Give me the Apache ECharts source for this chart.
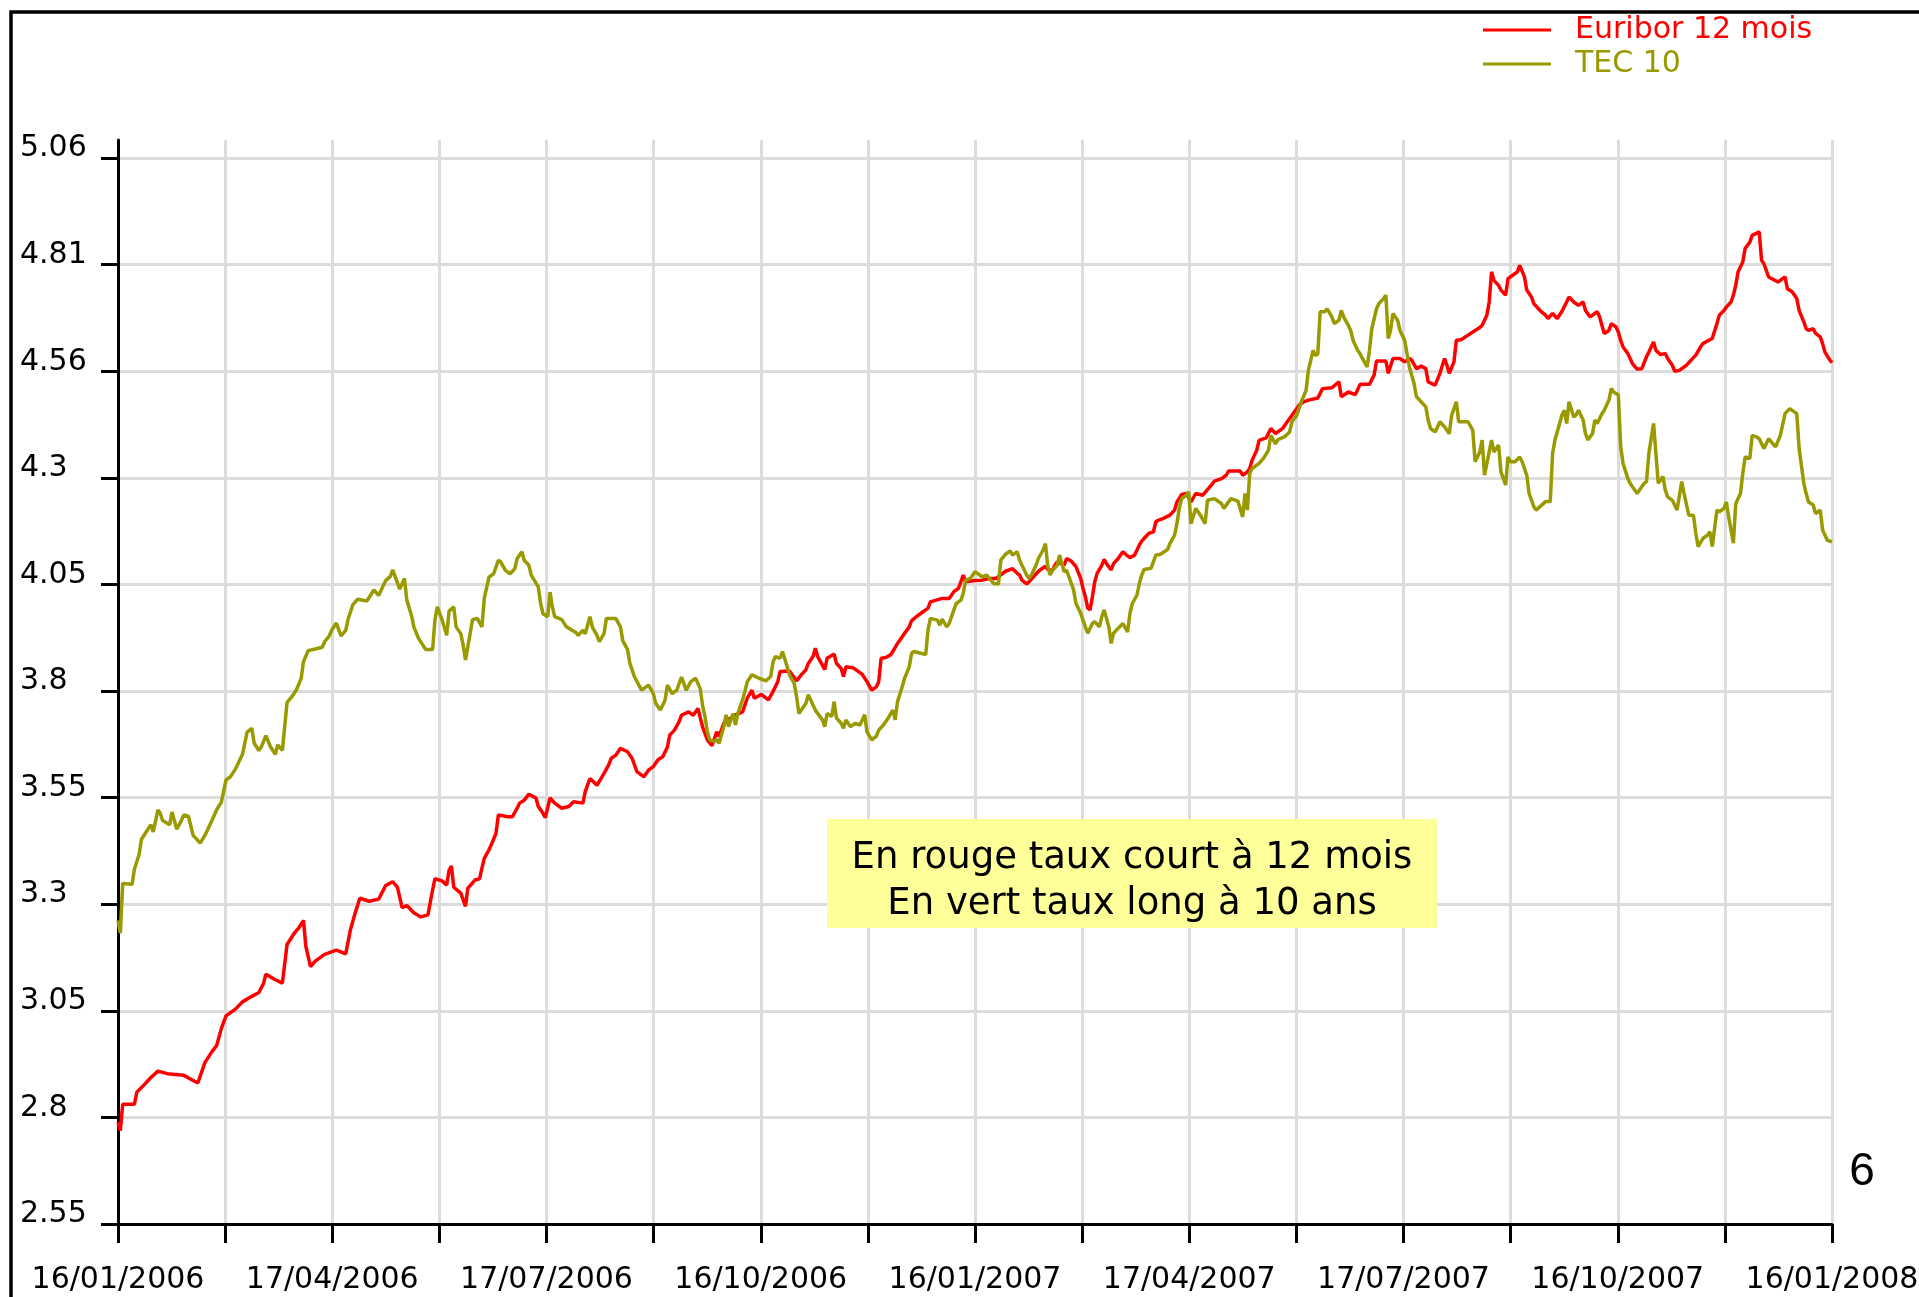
<!DOCTYPE html>
<html>
<head>
<meta charset="utf-8">
<title>Euribor 12 mois / TEC 10</title>
<script src="https://cdn.jsdelivr.net/npm/echarts@6/dist/echarts.min.js"></script>
<style>
  html, body { margin: 0; padding: 0; background: #fff; }
  #chart { width: 1919px; height: 1297px; }
</style>
</head>
<body>
<div id="chart"></div>
<script>
// x = jours depuis le 16/01/2006
const euriborDays = [0,1,2,7,8,11,14,17,21,28,34,37,40,42,44,46,50,53,57,60,62,63,67,70,72,75,77,79,80,82,84,88,93,97,99,101,103,107,111,114,117,119,121,123,126,129,132,134,135,138,140,141,142,143,146,148,149,151,152,154,155,156,158,159,161,162,166,168,170,171,173,175,178,179,181,182,184,186,189,192,194,198,199,201,204,207,209,210,212,214,217,219,221,223,224,226,228,230,232,234,235,237,239,240,243,245,247,249,251,253,255,256,258,260,262,263,266,267,268,270,271,274,277,279,281,282,286,289,291,293,294,296,297,298,300,301,302,305,306,308,309,310,313,317,319,321,323,324,325,327,329,330,332,334,337,338,341,345,346,351,354,356,358,360,361,365,368,371,374,378,381,383,384,385,387,388,392,395,396,398,399,400,403,404,406,408,410,411,412,413,414,415,416,417,419,420,421,423,424,426,427,428,430,431,433,435,436,437,439,441,442,443,445,448,450,451,452,453,455,457,459,462,464,466,467,470,472,473,478,479,481,482,483,485,486,489,491,493,494,496,498,500,501,503,505,507,511,513,517,520,521,524,527,529,533,535,536,540,541,543,546,548,550,551,553,555,557,558,561,563,565,566,567,569,570,572,575,578,580,581,583,584,585,586,588,589,591,592,594,596,597,599,600,602,603,605,606,608,609,611,613,615,617,618,620,622,624,625,627,628,630,631,632,633,635,636,638,639,640,641,643,644,645,647,649,651,652,654,655,657,659,660,662,663,665,668,670,672,674,675,677,679,681,682,684,685,687,688,689,690,692,693,695,696,699,700,701,703,707,710,711,713,715,716,718,719,720,722,723,725,726,727,729,730];
const euriborValues = [2.79,2.77,2.832,2.832,2.86,2.877,2.895,2.91,2.904,2.9,2.882,2.93,2.956,2.97,3.01,3.04,3.056,3.073,3.086,3.095,3.117,3.138,3.125,3.117,3.208,3.234,3.247,3.265,3.204,3.156,3.169,3.185,3.195,3.186,3.243,3.282,3.317,3.31,3.315,3.347,3.356,3.343,3.295,3.3,3.283,3.273,3.278,3.337,3.363,3.358,3.348,3.383,3.393,3.343,3.329,3.298,3.341,3.353,3.36,3.363,3.388,3.411,3.431,3.443,3.47,3.513,3.509,3.509,3.529,3.541,3.548,3.562,3.553,3.533,3.517,3.507,3.553,3.541,3.529,3.533,3.544,3.541,3.568,3.599,3.583,3.611,3.631,3.646,3.654,3.67,3.662,3.646,3.615,3.607,3.603,3.619,3.627,3.643,3.65,3.673,3.701,3.713,3.733,3.748,3.756,3.748,3.764,3.72,3.69,3.676,3.709,3.698,3.729,3.738,3.745,3.749,3.756,3.772,3.788,3.807,3.788,3.797,3.784,3.804,3.827,3.851,3.852,3.829,3.843,3.855,3.87,3.886,3.906,3.886,3.866,3.855,3.882,3.892,3.87,3.858,3.839,3.862,3.86,3.844,3.827,3.807,3.815,3.827,3.882,3.884,3.89,3.898,3.917,3.933,3.956,3.971,3.984,4.0,4.015,4.023,4.023,4.039,4.047,4.078,4.062,4.065,4.066,4.07,4.07,4.087,4.093,4.082,4.078,4.066,4.057,4.062,4.087,4.099,4.091,4.089,4.101,4.109,4.101,4.117,4.111,4.098,4.07,4.047,4.027,4.0,3.996,4.027,4.062,4.082,4.101,4.115,4.105,4.09,4.105,4.117,4.125,4.133,4.123,4.119,4.125,4.149,4.158,4.164,4.176,4.18,4.203,4.207,4.211,4.219,4.231,4.25,4.258,4.268,4.27,4.25,4.27,4.266,4.279,4.292,4.299,4.305,4.313,4.323,4.323,4.313,4.321,4.329,4.348,4.372,4.395,4.401,4.423,4.411,4.415,4.423,4.439,4.454,4.462,4.478,4.486,4.49,4.495,4.517,4.519,4.533,4.498,4.509,4.503,4.527,4.527,4.549,4.582,4.582,4.553,4.588,4.588,4.58,4.588,4.584,4.564,4.57,4.564,4.533,4.525,4.553,4.588,4.572,4.553,4.58,4.631,4.632,4.643,4.654,4.661,4.666,4.69,4.721,4.792,4.772,4.76,4.749,4.737,4.776,4.784,4.792,4.807,4.78,4.749,4.733,4.717,4.705,4.699,4.69,4.682,4.694,4.682,4.699,4.721,4.733,4.721,4.713,4.721,4.701,4.686,4.69,4.698,4.686,4.666,4.647,4.654,4.67,4.662,4.65,4.631,4.615,4.6,4.588,4.576,4.563,4.564,4.592,4.603,4.627,4.607,4.597,4.6,4.588,4.572,4.558,4.56,4.572,4.584,4.596,4.615,4.623,4.629,4.635,4.67,4.69,4.701,4.709,4.721,4.737,4.76,4.792,4.815,4.847,4.862,4.878,4.886,4.819,4.811,4.78,4.768,4.78,4.752,4.745,4.729,4.701,4.674,4.658,4.654,4.658,4.647,4.639,4.623,4.603,4.585,4.578];

const tecDays = [0,1,2,6,7,9,10,12,14,15,17,18,19,22,23,25,27,28,30,32,35,37,40,42,44,46,48,50,53,54,55,57,58,60,61,63,65,67,68,70,72,74,76,78,79,81,84,87,88,90,91,93,95,97,98,100,102,106,109,111,114,116,117,120,122,123,125,126,128,131,134,135,136,138,140,141,143,144,146,147,148,149,151,153,155,156,158,160,162,163,165,167,169,170,172,173,175,176,179,180,181,183,184,185,186,189,191,192,195,196,198,199,201,202,204,205,207,208,212,214,215,217,218,220,223,226,228,229,231,233,234,236,238,240,242,244,246,248,249,250,251,252,254,255,256,258,259,260,262,263,264,266,267,268,270,273,276,278,279,280,282,283,285,286,288,289,290,293,294,296,297,300,301,302,304,305,306,308,309,310,312,314,316,318,319,321,323,324,326,328,330,331,332,334,335,337,338,339,344,345,346,349,350,351,353,354,356,357,359,360,361,363,365,368,370,373,375,376,378,380,381,383,384,385,387,388,389,391,392,394,395,396,397,398,400,401,403,404,405,407,408,410,411,412,413,415,416,418,419,420,422,423,424,426,428,430,431,432,434,435,436,437,440,442,444,447,448,450,451,452,453,455,456,457,459,460,461,463,464,467,470,471,474,477,479,480,481,482,483,486,488,490,491,493,494,497,499,500,502,503,504,506,507,509,510,511,512,514,515,517,518,520,521,522,524,525,526,528,529,530,532,533,534,536,537,539,540,541,542,543,545,546,548,550,552,553,555,557,558,559,561,563,565,567,568,570,571,575,577,578,580,581,582,584,585,586,588,589,591,592,593,595,597,598,600,601,603,604,608,610,611,612,614,615,616,617,618,620,621,622,624,625,626,628,629,630,632,633,635,636,637,639,640,641,643,644,646,647,648,650,651,652,654,655,656,658,659,660,662,663,664,666,667,669,671,672,673,675,677,678,679,681,682,684,685,686,688,689,691,692,693,695,696,698,699,701,703,706,708,710,712,715,716,718,719,720,722,723,725,726,728,730];
const tecValues = [3.265,3.235,3.352,3.35,3.386,3.42,3.456,3.473,3.49,3.473,3.525,3.517,3.5,3.49,3.52,3.48,3.5,3.513,3.51,3.465,3.447,3.465,3.5,3.525,3.543,3.595,3.604,3.621,3.656,3.682,3.708,3.717,3.682,3.665,3.673,3.7,3.673,3.656,3.678,3.665,3.778,3.791,3.808,3.834,3.874,3.9,3.904,3.908,3.921,3.935,3.948,3.965,3.935,3.948,3.974,4.008,4.021,4.017,4.043,4.03,4.065,4.075,4.09,4.045,4.07,4.019,3.983,3.956,3.929,3.903,3.903,3.973,4.003,3.973,3.936,3.993,4.003,3.956,3.94,3.913,3.878,3.909,3.973,3.976,3.956,4.023,4.073,4.081,4.113,4.109,4.089,4.081,4.093,4.117,4.133,4.113,4.101,4.078,4.05,4.011,3.987,3.98,4.038,4.003,3.98,3.973,3.956,3.953,3.943,3.936,3.948,3.94,3.98,3.956,3.936,3.921,3.94,3.976,3.976,3.956,3.923,3.903,3.87,3.838,3.807,3.819,3.799,3.776,3.76,3.783,3.819,3.799,3.807,3.838,3.807,3.827,3.835,3.81,3.77,3.745,3.709,3.69,3.686,3.691,3.682,3.721,3.749,3.721,3.752,3.725,3.752,3.784,3.804,3.827,3.843,3.835,3.829,3.839,3.874,3.886,3.882,3.898,3.862,3.843,3.823,3.792,3.752,3.776,3.796,3.772,3.76,3.737,3.721,3.752,3.745,3.78,3.741,3.729,3.717,3.737,3.721,3.729,3.725,3.749,3.709,3.69,3.699,3.713,3.725,3.741,3.76,3.737,3.78,3.815,3.835,3.862,3.894,3.898,3.891,3.949,3.976,3.972,3.96,3.974,3.956,3.964,3.996,4.011,4.019,4.035,4.066,4.07,4.086,4.074,4.078,4.058,4.057,4.113,4.127,4.135,4.125,4.133,4.113,4.101,4.078,4.07,4.078,4.101,4.117,4.137,4.152,4.098,4.078,4.089,4.101,4.125,4.086,4.089,4.074,4.043,4.011,3.988,3.972,3.956,3.941,3.964,3.968,3.956,3.98,3.996,3.956,3.917,3.941,3.953,3.964,3.944,3.988,4.011,4.031,4.058,4.078,4.091,4.094,4.125,4.127,4.138,4.152,4.172,4.199,4.235,4.258,4.266,4.274,4.199,4.235,4.227,4.219,4.199,4.254,4.258,4.246,4.235,4.258,4.252,4.215,4.27,4.231,4.317,4.329,4.341,4.354,4.372,4.407,4.387,4.397,4.404,4.415,4.439,4.454,4.47,4.486,4.513,4.56,4.607,4.595,4.599,4.698,4.698,4.705,4.686,4.67,4.678,4.701,4.686,4.666,4.654,4.631,4.607,4.599,4.588,4.568,4.607,4.658,4.705,4.717,4.729,4.737,4.635,4.654,4.694,4.678,4.654,4.631,4.568,4.529,4.498,4.486,4.474,4.443,4.423,4.415,4.439,4.427,4.411,4.454,4.486,4.439,4.439,4.419,4.345,4.368,4.396,4.313,4.368,4.396,4.368,4.384,4.321,4.29,4.356,4.345,4.345,4.356,4.345,4.313,4.27,4.239,4.231,4.251,4.251,4.364,4.396,4.435,4.455,4.466,4.435,4.486,4.45,4.455,4.466,4.443,4.411,4.396,4.411,4.443,4.435,4.458,4.466,4.49,4.517,4.509,4.502,4.38,4.341,4.306,4.294,4.278,4.27,4.278,4.294,4.298,4.364,4.435,4.364,4.294,4.31,4.278,4.262,4.254,4.243,4.231,4.298,4.27,4.219,4.219,4.176,4.145,4.164,4.172,4.18,4.145,4.231,4.227,4.235,4.25,4.215,4.153,4.246,4.27,4.317,4.356,4.352,4.407,4.403,4.399,4.376,4.399,4.38,4.407,4.458,4.47,4.458,4.376,4.294,4.27,4.25,4.243,4.223,4.231,4.184,4.16,4.156];

const xTickLabels = ['16/01/2006','17/04/2006','17/07/2006','16/10/2006','16/01/2007','17/04/2007','17/07/2007','16/10/2007','16/01/2008'];
const yTickLabels = ['2.55','2.8','3.05','3.3','3.55','3.8','4.05','4.3','4.56','4.81','5.06'];

const yMin = 2.55;
const yStep = 0.251;
const yTickValues = yTickLabels.map((_, i) => +(yMin + i * yStep).toFixed(3));
const xSpan = 730;
const xStep = xSpan / 16;

const zip = (xs, ys) => xs.map((x, i) => [x, ys[i]]);

const axisFont = 'DejaVu Sans';
const chart = echarts.init(document.getElementById('chart'));

const option = {
  animation: false,
  backgroundColor: '#fff',
  grid: {
    left: 118,
    right: 87,
    top: 140,
    bottom: 73,
    containLabel: false,
    outerBoundsMode: 'none'
  },
  legend: {
    orient: 'vertical',
    left: 1478,
    top: 10,
    itemWidth: 68,
    itemHeight: 3,
    itemGap: 4,
    icon: 'rect',
    textStyle: {
      fontFamily: axisFont,
      fontSize: 30,
      padding: [0, 0, 0, 19]
    },
    data: [
      { name: 'Euribor 12 mois', textStyle: { color: '#ff0000' } },
      { name: 'TEC 10', textStyle: { color: '#999900' } }
    ]
  },
  xAxis: {
    type: 'value',
    min: 0,
    max: xSpan,
    interval: xStep,
    axisLine: { onZero: false, lineStyle: { color: '#000', width: 3 } },
    axisTick: { show: true, inside: false, length: 19, lineStyle: { color: '#000', width: 3 } },
    splitLine: { show: true, lineStyle: { color: '#dcdcdc', width: 3 } },
    axisLabel: {
      margin: 41,
      fontFamily: axisFont,
      fontSize: 30,
      color: '#000',
      formatter: (val) => {
        const i = Math.round(val / xStep);
        return i % 2 === 0 ? xTickLabels[i / 2] : '';
      }
    }
  },
  yAxis: {
    type: 'value',
    min: yMin,
    max: 5.1024,
    axisLine: { show: true, lineStyle: { color: '#000', width: 3 } },
    axisTick: {
      show: true,
      inside: false,
      length: 17,
      lineStyle: { color: '#000', width: 3 },
      customValues: yTickValues
    },
    splitLine: { show: true, lineStyle: { color: '#dcdcdc', width: 3 } },
    axisLabel: {
      customValues: yTickValues,
      align: 'left',
      verticalAlign: 'bottom',
      lineHeight: 19,
      margin: 98,
      fontFamily: axisFont,
      fontSize: 30,
      color: '#000',
      formatter: (val) => {
        const i = Math.round((val - yMin) / yStep);
        return yTickLabels[i] || '';
      }
    }
  },
  graphic: [
    {
      type: 'rect',
      shape: { x: 11, y: 12, width: 3000, height: 3000 },
      style: { fill: 'none', stroke: '#000', lineWidth: 3.5 },
      silent: true,
      z: 100
    },
    {
      type: 'rect',
      shape: { x: 827, y: 819, width: 610, height: 109 },
      style: { fill: '#ffff99' },
      z: 100
    },
    {
      type: 'text',
      x: 1132,
      y: 881,
      z: 101,
      style: {
        text: 'En rouge taux court à 12 mois\nEn vert taux long à 10 ans',
        fontFamily: 'DejaVu Sans',
        fontSize: 37,
        lineHeight: 46,
        fill: '#000',
        align: 'center',
        verticalAlign: 'middle'
      }
    },
    {
      type: 'text',
      x: 1862,
      y: 1172,
      z: 100,
      style: {
        text: '6',
        fontFamily: 'Liberation Sans',
        fontSize: 46,
        fill: '#000',
        align: 'center',
        verticalAlign: 'middle'
      }
    }
  ],
  series: [
    {
      name: 'Euribor 12 mois',
      type: 'line',
      showSymbol: false,
      color: '#ff0000',
      lineStyle: { width: 3.5, color: '#ff0000' },
      data: zip(euriborDays, euriborValues)
    },
    {
      name: 'TEC 10',
      type: 'line',
      showSymbol: false,
      color: '#999900',
      lineStyle: { width: 3.5, color: '#999900' },
      data: zip(tecDays, tecValues)
    }
  ]
};

chart.setOption(option);
</script>
</body>
</html>
